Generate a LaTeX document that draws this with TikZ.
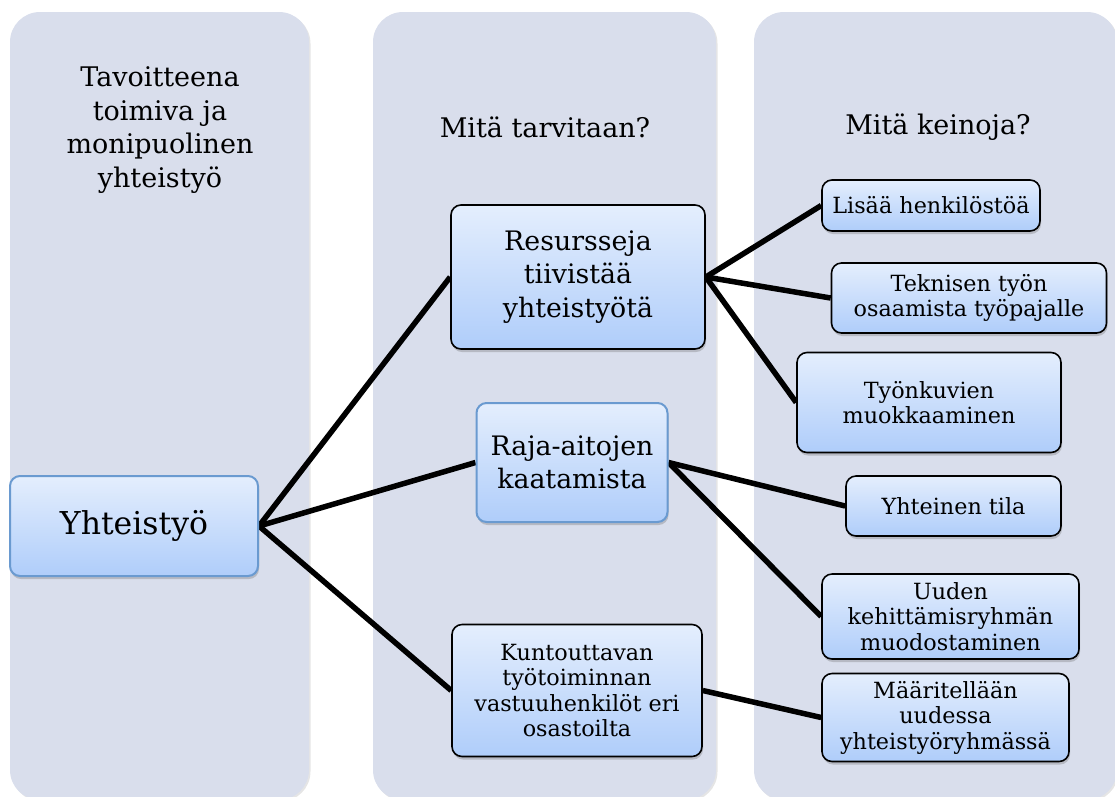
\documentclass[tikz,border=0pt]{standalone}
\usepackage{fontspec}
\setmainfont{DejaVu Serif}
\usetikzlibrary{shadows}
\definecolor{panelfill}{HTML}{D9DEEC}
\definecolor{boxtop}{HTML}{E4EEFD}
\definecolor{boxbot}{HTML}{AFCDFA}
\definecolor{blueedge}{HTML}{6A9AD0}
\pgfdeclarelayer{bg}
\pgfdeclarelayer{lines}
\pgfsetlayers{bg,lines,main}
\tikzset{
  panel/.style={fill=panelfill, draw=none, rounded corners=30pt,
    drop shadow={shadow xshift=1.5pt, shadow yshift=-1.5pt, opacity=0.25, fill=black!40}},
  boxbase/.style={rounded corners=10pt, top color=boxtop, bottom color=boxbot,
    align=center, inner sep=2pt, text=black,
    drop shadow={shadow xshift=1pt, shadow yshift=-3pt, opacity=0.3, fill=black!60}},
  darkbox/.style={boxbase, draw=black, line width=1.6pt},
  bluebox/.style={boxbase, draw=blueedge, line width=2pt},
  bigtext/.style={font=\fontsize{26.8}{33.5}\selectfont},
  smalltext/.style={font=\fontsize{22.3}{25.5}\selectfont},
  headtext/.style={align=center, font=\fontsize{27}{33.5}\selectfont},
  link/.style={line width=5.5pt, black},
}
\begin{document}
\begin{tikzpicture}[x=1pt, y=-1pt]
\useasboundingbox (0,0) rectangle (1115,796);

% nodes
\node[bluebox, font=\fontsize{31.5}{36}\selectfont, minimum width=248pt, minimum height=100pt] (yht) at (134,526) {Yhteistyö};
\node[darkbox, bigtext, minimum width=254pt, minimum height=144pt] (res) at (578,277) {Resursseja\\tiivistää\\yhteistyötä};
\node[bluebox, bigtext, minimum width=191pt, minimum height=119pt] (raja) at (572,462.5) {Raja-aitojen\\kaatamista};
\node[darkbox, smalltext, minimum width=250pt, minimum height=132pt] (kun) at (577,690.5) {Kuntouttavan\\työtoiminnan\\vastuuhenkilöt eri\\osastoilta};

\node[darkbox, smalltext, minimum width=218pt, minimum height=51pt] (lis) at (931,205.5) {Lisää henkilöstöä};
\node[darkbox, smalltext, minimum width=275pt, minimum height=70pt] (tek) at (969,298) {Teknisen työn\\osaamista työpajalle};
\node[darkbox, smalltext, minimum width=264pt, minimum height=100pt] (tyo) at (929,402.5) {Työnkuvien\\muokkaaminen};
\node[darkbox, smalltext, minimum width=215pt, minimum height=60pt] (yti) at (953.5,506) {Yhteinen tila};
\node[darkbox, smalltext, minimum width=257pt, minimum height=85pt] (uud) at (950.5,616.5) {Uuden\\kehittämisryhmän\\muodostaminen};
\node[darkbox, smalltext, minimum width=247pt, minimum height=88pt] (maa) at (945.5,717.5) {Määritellään\\uudessa\\yhteistyöryhmässä};

% headers
\node[headtext] (h1) at (160,130) {Tavoitteena\\toimiva ja\\monipuolinen\\yhteistyö};
\node[headtext] (h2) at (545,127) {Mitä tarvitaan?};
\node[headtext] (h3) at (938,127) {Mitä keinoja?};

\begin{pgfonlayer}{bg}
  \path[panel] (10,12) rectangle (309,800);
  \path[panel] (373,12) rectangle (716,800);
  \path[panel] (754,12) rectangle (1117,800);
\end{pgfonlayer}

\begin{pgfonlayer}{lines}
  \draw[link] (yht.east) -- (res.west);
  \draw[link] (yht.east) -- (raja.west);
  \draw[link] (yht.east) -- (kun.west);
  \draw[link] (res.east) -- (lis.west);
  \draw[link] (res.east) -- (tek.west);
  \draw[link] (res.east) -- (tyo.west);
  \draw[link] (raja.east) -- (yti.west);
  \draw[link] (raja.east) -- (uud.west);
  \draw[link] (kun.east) -- (maa.west);
\end{pgfonlayer}
\end{tikzpicture}
\end{document}
